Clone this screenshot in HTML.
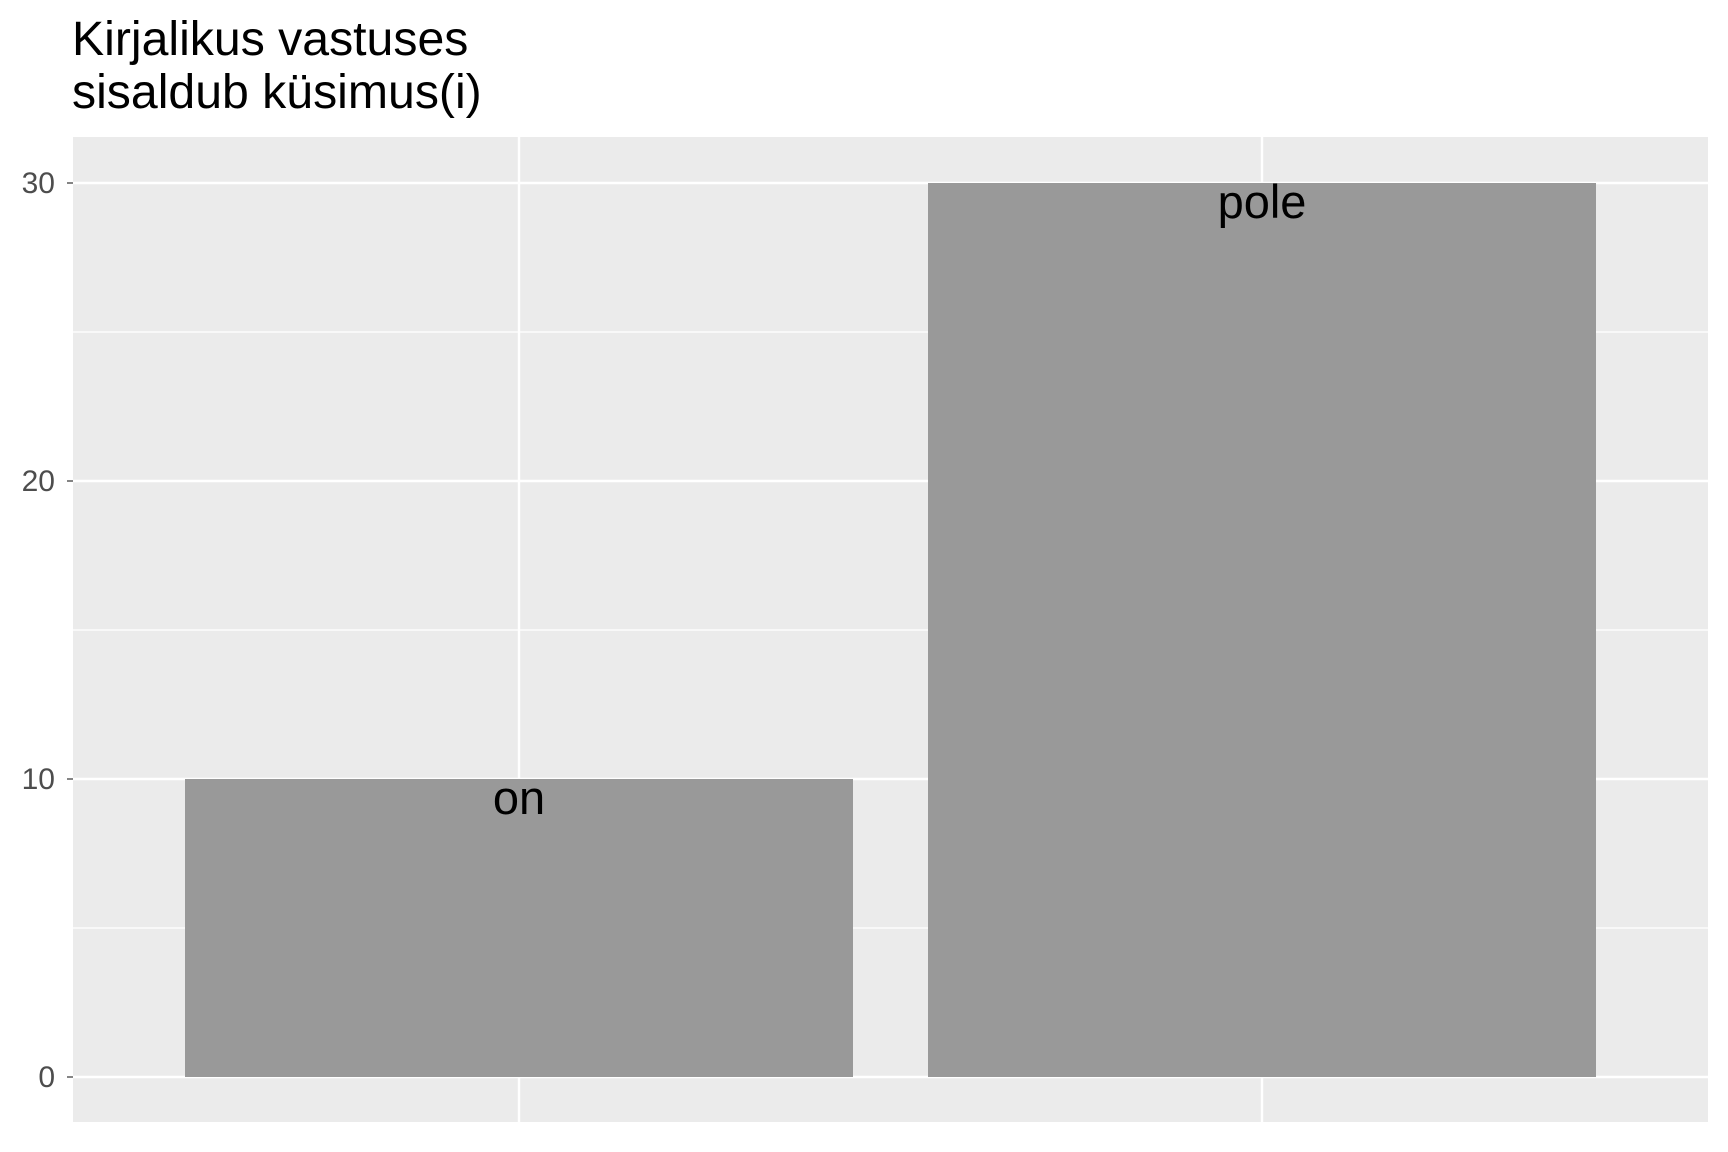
<!DOCTYPE html>
<html><head><meta charset="utf-8"><style>
html,body{margin:0;padding:0;background:#fff;}
svg{display:block;font-family:"Liberation Sans",Arial,sans-serif;}
</style></head><body>
<svg id="chart" width="1728" height="1152" viewBox="0 0 1728 1152" xmlns="http://www.w3.org/2000/svg">
<rect width="1728" height="1152" fill="#fff"/>
<text x="72" y="55" font-size="48.2" fill="#000">Kirjalikus vastuses</text>
<text x="72" y="108" font-size="48.2" fill="#000">sisaldub küsimus(i)</text>
<rect x="73" y="137" width="1635" height="985" fill="#ebebeb"/>
<g id="grid"></g>
<g id="bars"></g>
<g id="labels"></g>
<g id="yaxis"></g>
</svg>
<script>
const categories = ["on", "pole"];
const counts = [10, 30];
const yTicks = [0, 10, 20, 30];
const yMinor = [5, 15, 25];

const NS = "http://www.w3.org/2000/svg";
const panel = {x0: 73, x1: 1708, y0: 137, y1: 1122};
const yZero = 1077, yPerUnit = (1077 - 183) / 30;
function yScale(v){ return yZero - v * yPerUnit; }
const step = (1262 - 519);
function xScale(i){ return 519 + i * step; }
const barW = 668;

function mk(tag, attrs, parent){
  const e = document.createElementNS(NS, tag);
  for (const k in attrs) e.setAttribute(k, attrs[k]);
  parent.appendChild(e);
  return e;
}
const grid = document.getElementById('grid');
yMinor.forEach(v => {
  const l = mk('line', {x1: panel.x0, x2: panel.x1, y1: yScale(v), y2: yScale(v), stroke: '#fff', 'stroke-width': 1.2}, grid);
  
  
});
yTicks.forEach(v => {
  const l = mk('line', {x1: panel.x0, x2: panel.x1, y1: yScale(v), y2: yScale(v), stroke: '#fff', 'stroke-width': 2.4}, grid);
  
  
});
categories.forEach((c, i) => {
  const l = mk('line', {x1: xScale(i), x2: xScale(i), y1: panel.y0, y2: panel.y1, stroke: '#fff', 'stroke-width': 2.4}, grid);
  
  
});
const bars = document.getElementById('bars');
const labels = document.getElementById('labels');
categories.forEach((c, i) => {
  const top = yScale(counts[i]);
  const r = mk('rect', {x: xScale(i) - barW/2, y: top, width: barW, height: yZero - top, fill: '#999999'}, bars);
  
  
  const t = mk('text', {x: xScale(i), y: top + 35, 'text-anchor': 'middle', 'font-size': 47, fill: '#000'}, labels);
  
  
  t.textContent = c;
});
const yaxis = document.getElementById('yaxis');
yTicks.forEach(v => {
  const tk = mk('line', {x1: panel.x0 - 6, x2: panel.x0, y1: yScale(v), y2: yScale(v), stroke: '#333', 'stroke-width': 1.2}, yaxis);
  
  
  const t = mk('text', {x: 55, y: yScale(v) + 10, 'text-anchor': 'end', 'font-size': 30, fill: '#4d4d4d'}, yaxis);
  
  
  t.textContent = v;
});
</script>
</body></html>
